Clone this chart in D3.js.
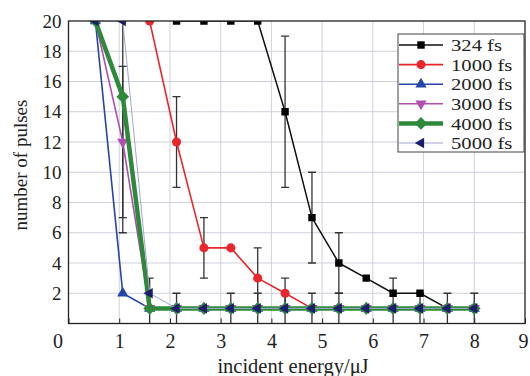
<!DOCTYPE html>
<html>
<head>
<meta charset="utf-8">
<script src="https://cdn.jsdelivr.net/npm/d3@7"></script>
<style>
  body { margin: 0; background: #fff; }
  svg { display: block; font-family: "Liberation Serif", "Times New Roman", serif; }
</style>
</head>
<body>
<div id="graph"></div>
<script>
// incident energy values (uJ) shared by every series
const energies = [0.53, 1.07, 1.6, 2.13, 2.67, 3.2, 3.73, 4.27, 4.8, 5.33, 5.87, 6.4, 6.93, 7.47, 8.0];
// number of pulses per series (null = no point)
const pulses324  = [null, null, null, 20, 20, 20, 20, 14, 7, 4, 3, 2, 2, 1, 1];
const pulses1000 = [null, null, 20, 12, 5, 5, 3, 2, 1, 1, 1, 1, 1, 1, 1];
const pulses2000 = [20, 2, 1, 1, 1, 1, 1, 1, 1, 1, 1, 1, 1, 1, 1];
const pulses3000 = [20, 12, 1, 1, 1, 1, 1, 1, 1, 1, 1, 1, 1, 1, 1];
const pulses4000 = [20, 15, 1, 1, 1, 1, 1, 1, 1, 1, 1, 1, 1, 1, 1];
const pulses5000 = [20, 20, 2, 1, 1, 1, 1, 1, 1, 1, 1, 1, 1, 1, 1];
const seriesNames = ["324 fs", "1000 fs", "2000 fs", "3000 fs", "4000 fs", "5000 fs"];

// error bars: energy, low, high
const errEnergy = [1.07, 1.07, 1.6, 2.13, 2.13, 2.67, 3.2, 3.73, 3.73, 4.27, 4.27, 4.27, 4.8, 4.8, 5.33, 5.33, 6.4, 6.93, 7.47, 8.0];
const errLow    = [7, 6, 0, 9, 0, 3, 0, 1, 0, 9, 1, 0, 4, 0, 2, 0, 0, 0, 0, 0];
const errHigh   = [17, 20, 3, 15, 2, 7, 2, 5, 2, 19, 3, 2, 10, 2, 6, 2, 3, 2, 2, 2];

const xTicks = [0, 1, 2, 3, 4, 5, 6, 7, 8, 9];
const yTicks = [2, 4, 6, 8, 10, 12, 14, 16, 18, 20];

const width = 530, height = 376;
const plotLeft = 68.5, plotRight = 525, plotTop = 21, plotBottom = 323.5;

const svg = d3.select("#graph").append("svg")
  .attr("width", width)
  .attr("height", height);

const x = d3.scaleLinear().domain([0, 9]).range([plotLeft, plotRight]);
const y = d3.scaleLinear().domain([0, 20]).range([plotBottom, plotTop]);

// grid
svg.append("g").selectAll("line")
  .data(xTicks.filter(d => d > 0 && d < 9))
  .enter().append("line")
  .attr("x1", d => x(d)).attr("x2", d => x(d))
  .attr("y1", plotTop).attr("y2", plotBottom)
  .attr("stroke", "#cdd1da").attr("stroke-width", 1);
svg.append("g").selectAll("line")
  .data(yTicks.filter(d => d < 20))
  .enter().append("line")
  .attr("x1", plotLeft).attr("x2", plotRight)
  .attr("y1", d => y(d)).attr("y2", d => y(d))
  .attr("stroke", "#cdd1da").attr("stroke-width", 1);

// x axis, ticks pointing inward
const xAxis = svg.append("g")
  .attr("transform", "translate(0," + plotBottom + ")")
  .call(d3.axisBottom(x).tickValues(xTicks).tickSize(-5).tickPadding(10).tickSizeOuter(0));
xAxis.select(".domain").remove();
xAxis.selectAll("line").attr("stroke", "#222");
xAxis.selectAll("text")
  .attr("font-size", 20)
  .attr("fill", "#222")
  .attr("font-family", "Liberation Serif, serif")
  .attr("dx", d => d === 0 ? -11 : (d === 9 ? -2 : 0));

// y axis labels
const yAxis = svg.append("g")
  .attr("transform", "translate(" + plotLeft + ",0)")
  .call(d3.axisLeft(y).tickValues(yTicks).tickSize(0).tickPadding(7));
yAxis.select(".domain").remove();
yAxis.selectAll("text")
  .attr("font-size", 19)
  .attr("fill", "#222")
  .attr("font-family", "Liberation Serif, serif");

svg.append("defs").append("clipPath").attr("id", "plotclip")
  .append("rect")
  .attr("x", plotLeft).attr("y", plotTop)
  .attr("width", plotRight - plotLeft).attr("height", plotBottom - plotTop + 8);

const plot = svg.append("g").attr("clip-path", "url(#plotclip)");

// error bars
const errs = errEnergy.map((e, i) => ({ e: e, lo: errLow[i], hi: errHigh[i] }));
const eb = plot.append("g").attr("stroke", "#333").attr("stroke-width", 1.3);
eb.selectAll(".v").data(errs).enter().append("line")
  .attr("x1", d => x(d.e)).attr("x2", d => x(d.e))
  .attr("y1", d => y(d.lo)).attr("y2", d => y(d.hi));
eb.selectAll(".ch").data(errs).enter().append("line")
  .attr("x1", d => x(d.e) - 4).attr("x2", d => x(d.e) + 4)
  .attr("y1", d => y(d.hi)).attr("y2", d => y(d.hi));
eb.selectAll(".cl").data(errs.filter(d => d.lo > 0)).enter().append("line")
  .attr("x1", d => x(d.e) - 4).attr("x2", d => x(d.e) + 4)
  .attr("y1", d => y(d.lo)).attr("y2", d => y(d.lo));

// series styles
const styles = [
  { line: "#111111", mark: "#000000", lw: 1.5, sym: d3.symbolSquare, size: 55, rot: 0 },
  { line: "#e8262b", mark: "#e8262b", lw: 1.6, sym: d3.symbolCircle, size: 65, rot: 0 },
  { line: "#2444a8", mark: "#2444a8", lw: 1.6, sym: d3.symbolTriangle, size: 55, rot: 0 },
  { line: "#b04fb0", mark: "#b04fb0", lw: 1.6, sym: d3.symbolTriangle, size: 55, rot: 180 },
  { line: "#2e8a3a", mark: "#2e8a3a", lw: 4.5, sym: d3.symbolSquare, size: 80, rot: 45 },
  { line: "#a3a6d2", mark: "#1b1f6b", lw: 1.0, sym: d3.symbolTriangle, size: 50, rot: -90 }
];
const allSeries = [pulses324, pulses1000, pulses2000, pulses3000, pulses4000, pulses5000];

const line = d3.line()
  .defined(d => d.v !== null)
  .x(d => x(d.e))
  .y(d => y(d.v));

allSeries.forEach((vals, si) => {
  const st = styles[si];
  const pts = energies.map((e, i) => ({ e: e, v: vals[i] }));
  const g = plot.append("g");
  g.append("path")
    .datum(pts)
    .attr("d", line)
    .attr("fill", "none")
    .attr("stroke", st.line)
    .attr("stroke-width", st.lw)
    .attr("stroke-linejoin", "round");
  g.selectAll("path.m")
    .data(pts.filter(d => d.v !== null))
    .enter().append("path")
    .attr("class", "m")
    .attr("d", d3.symbol().type(st.sym).size(st.size))
    .attr("transform", d => "translate(" + x(d.e) + "," + y(d.v) + ")rotate(" + st.rot + ")")
    .attr("fill", st.mark);
});

// frame
svg.append("rect")
  .attr("x", plotLeft).attr("y", plotTop)
  .attr("width", plotRight - plotLeft).attr("height", plotBottom - plotTop)
  .attr("fill", "none").attr("stroke", "#222").attr("stroke-width", 1.3);

// legend
const lg = svg.append("g");
lg.append("rect")
  .attr("x", 398).attr("y", 34)
  .attr("width", 126).attr("height", 118)
  .attr("fill", "#fff").attr("stroke", "#444").attr("stroke-width", 1);
seriesNames.forEach((name, i) => {
  const st = styles[i];
  const ly = 45 + i * 19.6;
  lg.append("line")
    .attr("x1", 399).attr("x2", 443)
    .attr("y1", ly).attr("y2", ly)
    .attr("stroke", st.line).attr("stroke-width", st.lw);
  lg.append("path")
    .attr("d", d3.symbol().type(st.sym).size(st.size)())
    .attr("transform", "translate(421," + ly + ")rotate(" + st.rot + ")")
    .attr("fill", st.mark);
  // text in the source is a bit wider than Liberation Serif, stretch it
  lg.append("text")
    .attr("transform", "translate(451," + ly + ")scale(1.18,1)")
    .attr("dy", "0.35em")
    .attr("font-size", 17.5)
    .attr("fill", "#222")
    .text(name);
});

// axis titles
svg.append("text")
  .attr("x", 293).attr("y", 373)
  .attr("text-anchor", "middle")
  .attr("font-size", 20.5)
  .attr("fill", "#222")
  .text("incident energy/μJ");
svg.append("text")
  .attr("transform", "translate(27,165)rotate(-90)")
  .attr("text-anchor", "middle")
  .attr("font-size", 19)
  .attr("fill", "#222")
  .text("number of pulses");
</script>
</body>
</html>
